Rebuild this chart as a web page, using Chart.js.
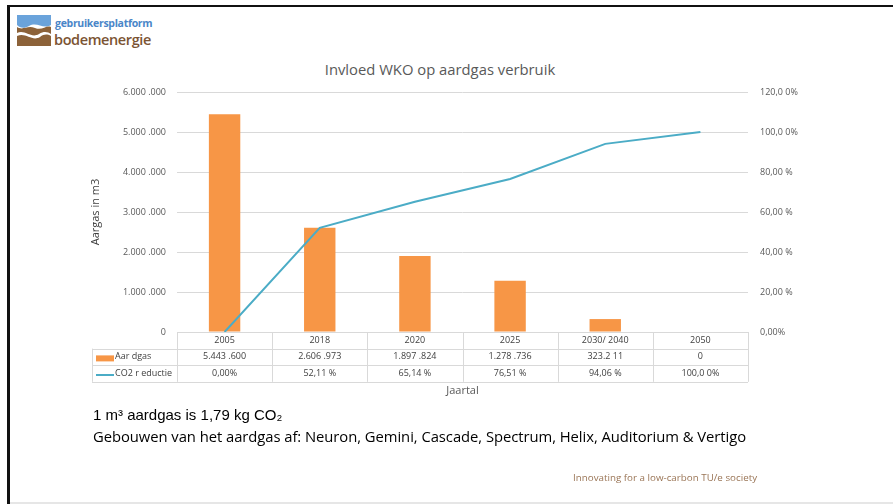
<!DOCTYPE html>
<html>
<head>
<meta charset="utf-8">
<script src="https://cdn.jsdelivr.net/npm/chart.js@4.4.1/dist/chart.umd.min.js"></script>
<style>
  html, body { margin: 0; padding: 0; background: #ffffff; }
  body { width: 893px; height: 504px; position: relative; overflow: hidden; font-family: "Open Sans", sans-serif; }
  #frameTop { position: absolute; left: 7px; top: 5px; width: 886px; height: 2px; background: #111; }
  #frameLeft { position: absolute; left: 7px; top: 5px; width: 3px; height: 499px; background: #111; }
  #frameBottom { position: absolute; left: 10px; top: 502px; width: 883px; height: 2px; background: #e6e6e6; }
  #logo { position: absolute; left: 17px; top: 15px; }
  #logoTop { position: absolute; left: 55px; top: 16px; font: bold 10.5px "Open Sans", sans-serif; color: #4a86c8; letter-spacing: -0.3px; }
  #logoBottom { position: absolute; left: 54px; top: 30px; font: 600 14.5px "Open Sans", sans-serif; color: #7b5433; letter-spacing: -0.4px; }
  #title { position: absolute; left: 240px; width: 400px; top: 59px; text-align: center; font: 14.8px "Open Sans", sans-serif; color: #595959; }
  #note1 { position: absolute; left: 93px; top: 406px; font: 15px "Liberation Sans", Arial, sans-serif; color: #000; }
  #note2 { position: absolute; left: 93px; top: 426px; font: 14.8px "Open Sans", sans-serif; color: #000; letter-spacing: -0.05px; }
  #footer { position: absolute; left: 573px; top: 471px; font: 9.8px "Open Sans", sans-serif; color: #9a7556; }
  #wrap { position: absolute; left: 0; top: 0; width: 893px; height: 504px; }
</style>
</head>
<body>
<div id="frameTop"></div>
<div id="frameLeft"></div>
<div id="frameBottom"></div>

<svg id="logo" width="34" height="31" viewBox="0 0 34 31">
  <path d="M0 0 H34 V10 C26 15 20 6 12 11 C7 14 3 13 0 10 Z" fill="#6aa3db"/>
  <path d="M0 12 C6 16 10 10 18 13 C25 16 29 10 34 12 V31 H0 Z" fill="#8c6239"/>
  <path d="M0 18 C8 14 14 24 22 19 C27 16 31 17 34 19 V21 C30 19 27 19 23 22 C15 27 9 17 0 21 Z" fill="#ffffff"/>
</svg>
<div id="logoTop">gebruikersplatform</div>
<div id="logoBottom">bodemenergie</div>

<div id="title">Invloed WKO op aardgas verbruik</div>

<div id="wrap"><canvas id="chart" width="893" height="504"></canvas></div>

<div id="note1">1 m³ aardgas is 1,79 kg CO₂</div>
<div id="note2">Gebouwen van het aardgas af: Neuron, Gemini, Cascade, Spectrum, Helix, Auditorium &amp; Vertigo</div>
<div id="footer">Innovating for a low-carbon TU/e society</div>

<script>
// Years on the horizontal axis
const categories = ['2005', '2018', '2020', '2025', '2030/ 2040', '2050'];

// Natural gas use in m3 per year
const aardgas = [5443600, 2606973, 1897824, 1278736, 323211, 0];
const aardgasLabels = ['5.443 .600', '2.606 .973', '1.897 .824', '1.278 .736', '323.2 11', '0'];

// CO2 reduction relative to 2005, in percent
const co2Reductie = [0.00, 52.11, 65.14, 76.51, 94.06, 100.00];
const co2Labels = ['0,00%', '52,11 %', '65,14 %', '76,51 %', '94,06 %', '100,0 0%'];

// Axis tick texts, bottom to top
const leftTicks = ['0', '1.000 .000', '2.000 .000', '3.000 .000', '4.000 .000', '5.000 .000', '6.000 .000'];
const rightTicks = ['0,00%', '20,00 %', '40,00 %', '60,00 %', '80,00 %', '100,0 0%', '120,0 0%'];

const seriesNames = ['Aar dgas', 'CO2 r eductie'];

const ORANGE = '#f79646';
const BLUE = '#4bacc6';
const GRID = '#d9d9d9';
const TEXT = '#595959';

// Data table drawn under the plot, one column per category
const dataTable = {
  id: 'dataTable',
  afterDraw(chart) {
    const ctx = chart.ctx;
    const x = chart.scales.x;
    const area = chart.chartArea;
    const n = categories.length;
    const colW = (area.right - area.left) / n;
    const rowH = 16.6;
    const top = area.bottom;
    const labelLeft = 92;
    const rows = [top, top + rowH, top + 2 * rowH, top + 3 * rowH];

    ctx.save();
    ctx.strokeStyle = GRID;
    ctx.lineWidth = 1;
    ctx.beginPath();
    // horizontal lines
    ctx.moveTo(area.left, rows[0] + 0.5); ctx.lineTo(area.right, rows[0] + 0.5);
    for (let r = 1; r < 4; r++) {
      ctx.moveTo(labelLeft, Math.round(rows[r]) + 0.5);
      ctx.lineTo(area.right, Math.round(rows[r]) + 0.5);
    }
    // vertical lines
    for (let c = 0; c <= n; c++) {
      const xx = Math.round(area.left + c * colW) + 0.5;
      ctx.moveTo(xx, rows[0]); ctx.lineTo(xx, rows[3]);
    }
    ctx.moveTo(labelLeft + 0.5, rows[1]); ctx.lineTo(labelLeft + 0.5, rows[3]);
    ctx.stroke();

    ctx.font = '9px "Open Sans", sans-serif';
    ctx.fillStyle = '#404040';
    ctx.textAlign = 'center';
    ctx.textBaseline = 'middle';
    for (let i = 0; i < n; i++) {
      const cx = x.getPixelForValue(i);
      ctx.fillText(categories[i], cx, (rows[0] + rows[1]) / 2);
      ctx.fillText(aardgasLabels[i], cx, (rows[1] + rows[2]) / 2);
      ctx.fillText(co2Labels[i], cx, (rows[2] + rows[3]) / 2);
    }

    // legend keys in the row headers
    const keyL = labelLeft + 4, keyR = labelLeft + 22;
    const y1 = (rows[1] + rows[2]) / 2, y2 = (rows[2] + rows[3]) / 2;
    ctx.fillStyle = ORANGE;
    ctx.fillRect(keyL, y1 - 1.5, keyR - keyL, 6);
    ctx.strokeStyle = BLUE;
    ctx.lineWidth = 2;
    ctx.beginPath();
    ctx.moveTo(keyL, y2 + 1.5); ctx.lineTo(keyR, y2 + 1.5);
    ctx.stroke();
    ctx.fillStyle = '#404040';
    ctx.textAlign = 'left';
    ctx.fillText(seriesNames[0], keyR + 1, y1);
    ctx.fillText(seriesNames[1], keyR + 1, y2);

    // horizontal axis title
    ctx.font = '11px "Open Sans", sans-serif';
    ctx.fillStyle = TEXT;
    ctx.textAlign = 'center';
    ctx.fillText('Jaartal', (area.left + area.right) / 2, rows[3] + 9);
    ctx.restore();
  }
};

new Chart(document.getElementById('chart'), {
  data: {
    labels: categories,
    datasets: [
      {
        type: 'line',
        label: seriesNames[1],
        data: co2Reductie,
        yAxisID: 'y1',
        borderColor: BLUE,
        borderWidth: 2,
        pointRadius: 0,
        tension: 0,
        order: 1
      },
      {
        type: 'bar',
        label: seriesNames[0],
        data: aardgas,
        yAxisID: 'y',
        backgroundColor: ORANGE,
        categoryPercentage: 1,
        barPercentage: 0.33,
        order: 2
      }
    ]
  },
  options: {
    responsive: false,
    animation: false,
    layout: { padding: { left: 87, right: 65, top: 92, bottom: 172 } },
    plugins: { legend: { display: false }, tooltip: { enabled: false } },
    scales: {
      x: { type: 'category', display: false, offset: true },
      y: {
        position: 'left',
        min: 0, max: 6000000,
        ticks: {
          stepSize: 1000000,
          padding: 11,
          color: TEXT,
          font: { family: 'Open Sans', size: 9 },
          callback: (v, i) => leftTicks[i]
        },
        grid: { color: GRID, drawTicks: false },
        border: { display: false },
        title: { display: true, text: 'Aargas in m3', color: '#404040', font: { family: 'Open Sans', size: 11 }, padding: 2 },
        afterFit(scale) { scale.width = 90; }
      },
      y1: {
        position: 'right',
        min: 0, max: 120,
        ticks: {
          stepSize: 20,
          padding: 12,
          color: TEXT,
          font: { family: 'Open Sans', size: 9 },
          callback: (v, i) => rightTicks[i]
        },
        grid: { display: false, drawTicks: false },
        border: { display: false },
        afterFit(scale) { scale.width = 80; }
      }
    }
  },
  plugins: [dataTable]
});
</script>
</body>
</html>
